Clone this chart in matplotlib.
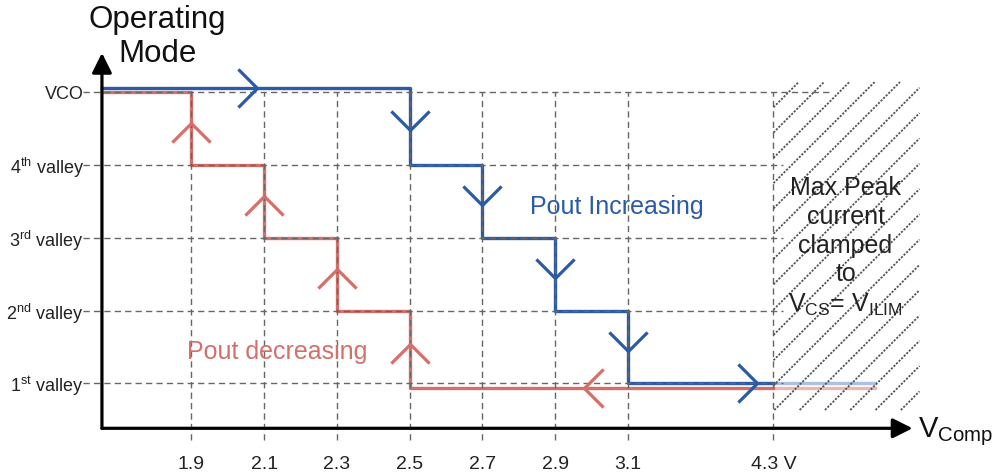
import numpy as np
import matplotlib.pyplot as plt
from matplotlib.path import Path
from matplotlib.collections import LineCollection

plt.rcParams['font.family'] = ['Liberation Sans', 'DejaVu Sans']
plt.rcParams['mathtext.fontset'] = 'custom'
plt.rcParams['mathtext.rm'] = 'Liberation Sans'
plt.rcParams['mathtext.it'] = 'Liberation Sans:italic'
plt.rcParams['mathtext.default'] = 'regular'

# --- data ---
vcomp_ticks = [1.9, 2.1, 2.3, 2.5, 2.7, 2.9, 3.1, 4.3]
vcomp_labels = ['1.9', '2.1', '2.3', '2.5', '2.7', '2.9', '3.1', '4.3 V']
mode_levels = [0, 1, 2, 3, 4]
mode_labels = ['1$^{st}$ valley', '2$^{nd}$ valley', '3$^{rd}$ valley',
               '4$^{th}$ valley', 'VCO']

# Pout increasing: mode steps down at these Vcomp values
inc_vcomp = [2.5, 2.7, 2.9, 3.1]
inc_modes = [4, 3, 2, 1, 0]
# Pout decreasing: mode steps back up at these Vcomp values
dec_vcomp = [1.9, 2.1, 2.3, 2.5]
dec_modes = [4, 3, 2, 1, 0]
v_clamp = 4.3

blue = '#2b5ba8'
red = '#d4706a'
light_blue = '#abc0e2'
light_red = '#ecb6b1'
grid_c = '#666666'

# broken x scale: 0.2 V per step up to 3.1 V, then 0.6 V per step
V_BREAK = 3.1


def fwd(v):
    v = np.asarray(v, float)
    return np.where(v <= V_BREAK, (v - 1.9) / 0.2, 6 + (v - V_BREAK) / 0.6)


def inv(p):
    p = np.asarray(p, float)
    return np.where(p <= 6, 1.9 + p * 0.2, V_BREAK + (p - 6) * 0.6)


def chevron(angle):
    verts = np.array([(-1, 1), (0, 0), (-1, -1)], float)
    a = np.deg2rad(angle)
    rot = np.array([[np.cos(a), -np.sin(a)], [np.sin(a), np.cos(a)]])
    return Path(verts @ rot.T, [Path.MOVETO, Path.LINETO, Path.LINETO])


fig = plt.figure(figsize=(9.96, 4.73), dpi=100)
ax = fig.add_axes([0, 0, 1, 1])
ax.set_xscale('function', functions=(fwd, inv))
ax.set_xlim(float(inv(-2.630)), float(inv(11.058)))
ax.set_ylim(-1.232, 5.265)

v_axis = float(inv(-1.229))
y_axis = -0.618
v_grid0 = float(inv(-1.489))
v_light = float(inv(9.39))

for s in ax.spines.values():
    s.set_visible(False)
ax.spines['left'].set_position(('data', v_axis))
ax.spines['bottom'].set_position(('data', y_axis))
ax.set_xticks(vcomp_ticks, vcomp_labels)
ax.set_yticks(mode_levels, mode_labels)
ax.tick_params(axis='x', length=0, pad=20, labelsize=14, labelcolor='#222222')
ax.tick_params(axis='y', length=0, pad=13, labelsize=13, labelcolor='#222222')
ax.minorticks_off()

# dashed grid
ax.vlines(vcomp_ticks, -0.78, mode_levels[-1], colors=grid_c, lw=1,
          linestyles=(0, (4.5, 3)), zorder=3)
ax.hlines(mode_levels, v_grid0, [4.38, 4.38, 4.38, 4.38, 4.76], colors=grid_c,
          lw=1, linestyles=(0, (4.5, 3)), zorder=3)

# Pout increasing path (blue)
yi = np.array(inc_modes + [inc_modes[-1]], float)
yi[yi == 4] += 0.06
xi = [v_axis] + inc_vcomp + [v_clamp]
ax.step(xi, yi, where='post', color=blue, lw=2.4, zorder=2)
ax.plot([v_clamp, v_light], [yi[-1], yi[-1]], color=light_blue, lw=2.4, zorder=1)

# Pout decreasing path (red)
yd = np.array(dec_modes + [dec_modes[-1]], float)
yd[yd == 0] -= 0.065
xd = [v_axis] + dec_vcomp + [v_clamp]
ax.step(xd, yd, where='post', color=red, lw=2.4, zorder=2)
ax.plot([v_clamp, v_light], [yd[-1], yd[-1]], color=light_red, lw=2.4, zorder=1)

mk = dict(markersize=27.5, markerfacecolor='none', markeredgewidth=2.3,
          linestyle='none', zorder=4)
# blue arrows
ax.plot([2.08], [yi[0]], marker=chevron(0), color=blue, **mk)
ax.plot([4.16], [yi[-1]], marker=chevron(0), color=blue, **mk)
for k, v in enumerate(inc_vcomp):
    ax.plot([v], [(yi[k] + yi[k + 1]) / 2 - 0.05], marker=chevron(-90),
            color=blue, **mk)
# red arrows
ax.plot([2.98], [yd[-1]], marker=chevron(180), color=red, **mk)
for k, v in enumerate(dec_vcomp):
    ax.plot([v], [(yd[k] + yd[k + 1]) / 2 + 0.07], marker=chevron(90),
            color=red, **mk)

# hatched clamp region (45 deg dotted lines, clipped to the box by hand)
(px0, py0), (px1, py1) = ax.transData.transform([(v_clamp, -0.367), (5.504, 4.139)])
segs = []
for x0 in np.arange(px0 - (py1 - py0), px1, 25.3):
    ya = max(py0, py0 + (px0 - x0))
    yb = min(py1, py0 + (px1 - x0))
    if yb > ya:
        segs.append([(x0 + ya - py0, ya), (x0 + yb - py0, yb)])
segs = [ax.transAxes.inverted().transform(s) for s in segs]
lc = LineCollection(segs, colors='#555555', lw=1.3, linestyles=(0, (1.2, 0.8)),
                    transform=ax.transAxes, zorder=5)
ax.add_collection(lc)

ax.text(4.894, 1.873, 'Max Peak\ncurrent\nclamped\nto\nV$_{CS}$= V$_{ILIM}$',
        ha='center', va='center', multialignment='center', fontsize=18,
        linespacing=1.25, color='#222222', zorder=6)
ax.text(3.068, 2.42, 'Pout Increasing', color=blue, fontsize=18,
        ha='center', va='center')
ax.text(2.135, 0.43, 'Pout decreasing', color=red, fontsize=18,
        ha='center', va='center')

# axes with arrowheads
arrow = dict(arrowstyle='-|>,head_length=0.6,head_width=0.3', mutation_scale=20,
             lw=2.3, color='black', shrinkA=0, shrinkB=0)
ax.annotate('', xy=(float(inv(9.911)), y_axis), xytext=(v_axis, y_axis),
            arrowprops=arrow, zorder=6)
ax.annotate('', xy=(v_axis, 4.538), xytext=(v_axis, y_axis),
            arrowprops=arrow, zorder=6)

fig.text(157.5 / 996, 1 - 5 / 473, 'Operating\nMode', ha='center', va='top',
         fontsize=22.5, linespacing=1.17, color='#111111')
fig.text(918 / 996, 1 - 437 / 473, 'V$_{Comp}$', ha='left', va='baseline',
         fontsize=21, color='#111111')

fig.savefig('out.png', dpi=100)
